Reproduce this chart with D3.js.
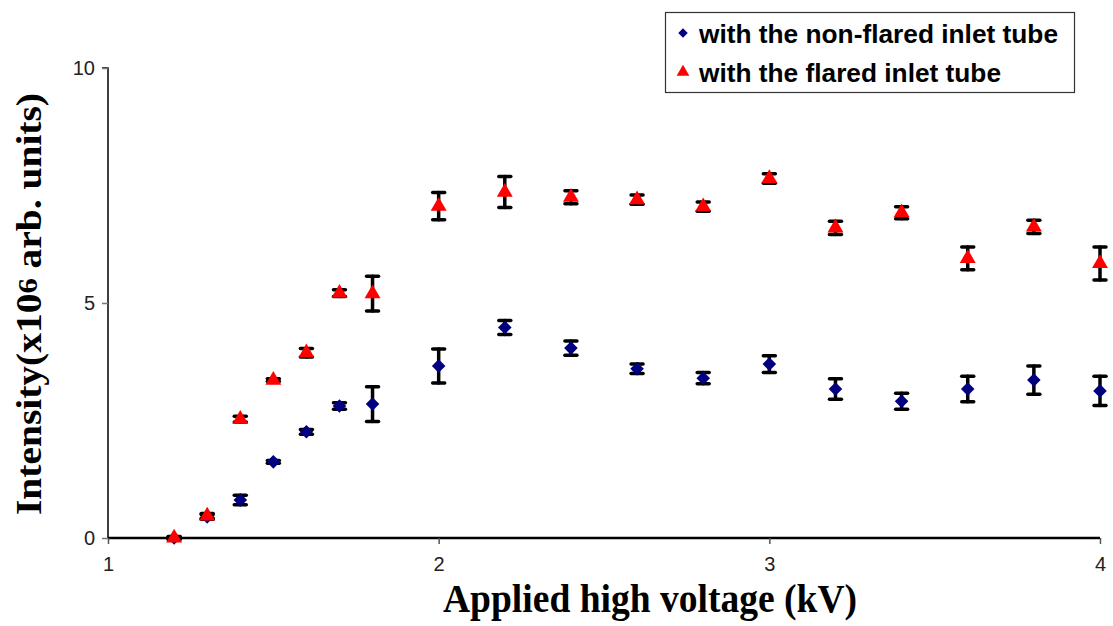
<!DOCTYPE html>
<html>
<head>
<meta charset="utf-8">
<script src="https://cdn.jsdelivr.net/npm/d3@7"></script>
<style>
  body { margin: 0; background: #fff; }
  svg { display: block; }
</style>
</head>
<body>
<div id="chart"></div>
<script>
// values
const voltage = [1.2, 1.3, 1.4, 1.5, 1.6, 1.7, 1.8, 2.0, 2.2, 2.4, 2.6, 2.8, 3.0, 3.2, 3.4, 3.6, 3.8, 4.0];
const nonFlared    = [0, 0.45, 0.81, 1.62, 2.26, 2.81, 2.85, 3.66, 4.48, 4.04, 3.60, 3.40, 3.70, 3.17, 2.91, 3.17, 3.36, 3.13];
const nonFlaredErr = [0.03, 0.05, 0.10, 0.03, 0.05, 0.07, 0.37, 0.36, 0.15, 0.15, 0.10, 0.12, 0.18, 0.22, 0.17, 0.27, 0.30, 0.31];
const flared       = [0, 0.47, 2.53, 3.36, 3.94, 5.21, 5.20, 7.06, 7.36, 7.25, 7.20, 7.05, 7.65, 6.60, 6.92, 5.95, 6.62, 5.84];
const flaredErr    = [0.02, 0.05, 0.06, 0.03, 0.09, 0.07, 0.37, 0.29, 0.33, 0.14, 0.10, 0.10, 0.10, 0.14, 0.13, 0.24, 0.14, 0.35];
const xTicks = [1, 2, 3, 4];
const yTicks = [0, 5, 10];
const legendLabels = ["with the non-flared inlet tube", "with the flared inlet tube"];

const width = 1113, height = 626;

let svg = d3.select("#chart").append("svg")
    .attr("width", width)
    .attr("height", height);

let x = d3.scaleLinear().domain([1, 4]).range([108, 1100]);
let y = d3.scaleLinear().domain([0, 10]).range([538, 68]);

// axes
let yAxis = d3.axisLeft(y).tickValues(yTicks).tickSize(6).tickPadding(7);
let gy = svg.append("g").attr("transform", "translate(108,0)").call(yAxis);
gy.select(".domain").attr("stroke", "#000").attr("stroke-width", 1.5).attr("d", "M0,538V68H-6");
gy.selectAll(".tick line").attr("stroke", "#777").attr("stroke-width", 1.5);
gy.selectAll(".tick text")
    .style("font-family", "'Liberation Sans', Arial, sans-serif")
    .style("font-size", "20px")
    .attr("fill", "#222");

let xAxis = d3.axisBottom(x).tickValues(xTicks).tickSize(6).tickPadding(13).tickFormat(d3.format("d"));
let gx = svg.append("g").attr("transform", "translate(0,538)").call(xAxis);
gx.select(".domain").attr("stroke", "#000").attr("stroke-width", 2.5).attr("d", "M108,0H1100");
gx.selectAll(".tick line").attr("stroke", "#555").attr("stroke-width", 1.5);
gx.selectAll(".tick text")
    .style("font-family", "'Liberation Sans', Arial, sans-serif")
    .style("font-size", "20px")
    .attr("fill", "#222");

// series: diamond is a square turned 45 degrees
const series = [
  {vals: nonFlared, errs: nonFlaredErr, color: "#000080", shape: d3.symbolSquare, size: 92, rot: 45},
  {vals: flared, errs: flaredErr, color: "#ff0000", shape: d3.symbolTriangle, size: 110, rot: 0}
];

series.forEach(s => {
  let pts = voltage.map((v, i) => ({v: v, val: s.vals[i], err: s.errs[i]}));
  let g = svg.append("g");
  let eb = g.selectAll(".err").data(pts).enter().append("g")
      .attr("stroke", "#000")
      .attr("stroke-width", 3.5)
      .attr("stroke-linecap", "round");
  eb.append("line")
      .attr("x1", d => x(d.v)).attr("x2", d => x(d.v))
      .attr("y1", d => y(d.val + d.err)).attr("y2", d => y(d.val - d.err));
  eb.append("line")
      .attr("x1", d => x(d.v) - 6).attr("x2", d => x(d.v) + 6)
      .attr("y1", d => y(d.val + d.err)).attr("y2", d => y(d.val + d.err));
  eb.append("line")
      .attr("x1", d => x(d.v) - 6).attr("x2", d => x(d.v) + 6)
      .attr("y1", d => y(d.val - d.err)).attr("y2", d => y(d.val - d.err));

  g.selectAll(".pt").data(pts).enter().append("path")
      .attr("d", d3.symbol().type(s.shape).size(s.size))
      .attr("transform", d => "translate(" + x(d.v) + "," + y(d.val) + ") rotate(" + s.rot + ")")
      .attr("fill", s.color);
});

// axis titles
svg.append("text")
    .attr("x", 650).attr("y", 612)
    .attr("text-anchor", "middle")
    .attr("textLength", 414).attr("lengthAdjust", "spacingAndGlyphs")
    .style("font-family", "'Liberation Serif', 'Times New Roman', serif")
    .style("font-weight", "bold")
    .style("font-size", "40px")
    .text("Applied high voltage (kV)");

let yt = svg.append("text")
    .attr("transform", "translate(41,304) rotate(-90)")
    .attr("text-anchor", "middle")
    .attr("textLength", 422).attr("lengthAdjust", "spacingAndGlyphs")
    .style("font-family", "'Liberation Serif', 'Times New Roman', serif")
    .style("font-weight", "bold")
    .style("font-size", "36px");
yt.append("tspan").text("Intensity(x10");
yt.append("tspan").attr("dy", -4).style("font-size", "28px").text("6");
yt.append("tspan").attr("dy", 4).text(" arb. units)");

// legend
let lg = svg.append("g");
lg.append("rect")
    .attr("x", 665.5).attr("y", 12.5).attr("width", 409).attr("height", 80)
    .attr("fill", "#fff").attr("stroke", "#333").attr("stroke-width", 1.2);
series.forEach((s, i) => {
  lg.append("path")
      .attr("d", d3.symbol().type(s.shape).size(i === 0 ? 45 : 70))
      .attr("transform", "translate(683," + (33 + i * 39) + ") rotate(" + s.rot + ")")
      .attr("fill", s.color);
  lg.append("text")
      .attr("x", 699).attr("y", 43 + i * 39)
      .attr("textLength", i === 0 ? 359 : 302).attr("lengthAdjust", "spacingAndGlyphs")
      .style("font-family", "'Liberation Sans', Arial, sans-serif")
      .style("font-weight", "bold")
      .style("font-size", "26px")
      .text(legendLabels[i]);
});
</script>
</body>
</html>
